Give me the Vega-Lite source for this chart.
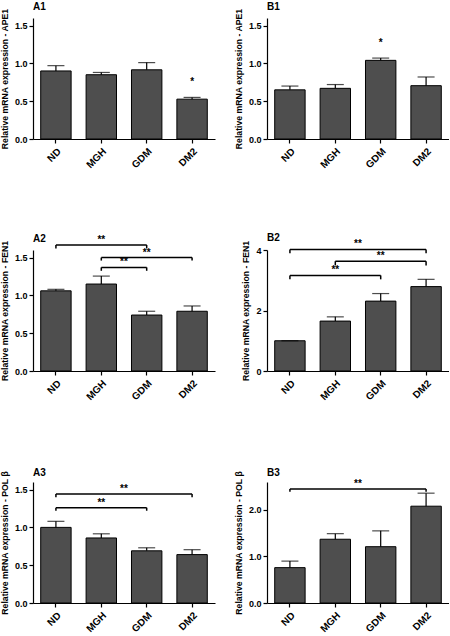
{
  "$schema": "https://vega.github.io/schema/vega-lite/v6.json",
  "padding": {"left": 0, "top": 2, "right": 0, "bottom": 0},
  "columns": 2,
  "bounds": "flush",
  "spacing": {"row": 111, "column": 52},
  "datasets": {
    "bars": [
      {"panel": "A1", "group": "ND", "mean": 0.90, "upper": 0.97, "sig": ""},
      {"panel": "A1", "group": "MGH", "mean": 0.85, "upper": 0.88, "sig": ""},
      {"panel": "A1", "group": "GDM", "mean": 0.915, "upper": 1.01, "sig": ""},
      {"panel": "A1", "group": "DM2", "mean": 0.527, "upper": 0.55, "sig": "*"},
      {"panel": "B1", "group": "ND", "mean": 0.65, "upper": 0.70, "sig": ""},
      {"panel": "B1", "group": "MGH", "mean": 0.67, "upper": 0.72, "sig": ""},
      {"panel": "B1", "group": "GDM", "mean": 1.04, "upper": 1.07, "sig": "*"},
      {"panel": "B1", "group": "DM2", "mean": 0.705, "upper": 0.82, "sig": ""},
      {"panel": "A2", "group": "ND", "mean": 1.06, "upper": 1.08, "sig": ""},
      {"panel": "A2", "group": "MGH", "mean": 1.15, "upper": 1.255, "sig": ""},
      {"panel": "A2", "group": "GDM", "mean": 0.74, "upper": 0.79, "sig": ""},
      {"panel": "A2", "group": "DM2", "mean": 0.79, "upper": 0.86, "sig": ""},
      {"panel": "B2", "group": "ND", "mean": 1.0, "upper": 1.0, "sig": ""},
      {"panel": "B2", "group": "MGH", "mean": 1.65, "upper": 1.79, "sig": ""},
      {"panel": "B2", "group": "GDM", "mean": 2.31, "upper": 2.56, "sig": ""},
      {"panel": "B2", "group": "DM2", "mean": 2.79, "upper": 3.03, "sig": ""},
      {"panel": "A3", "group": "ND", "mean": 1.0, "upper": 1.08, "sig": ""},
      {"panel": "A3", "group": "MGH", "mean": 0.86, "upper": 0.915, "sig": ""},
      {"panel": "A3", "group": "GDM", "mean": 0.69, "upper": 0.73, "sig": ""},
      {"panel": "A3", "group": "DM2", "mean": 0.64, "upper": 0.705, "sig": ""},
      {"panel": "B3", "group": "ND", "mean": 0.76, "upper": 0.90, "sig": ""},
      {"panel": "B3", "group": "MGH", "mean": 1.37, "upper": 1.49, "sig": ""},
      {"panel": "B3", "group": "GDM", "mean": 1.21, "upper": 1.55, "sig": ""},
      {"panel": "B3", "group": "DM2", "mean": 2.08, "upper": 2.36, "sig": ""}
    ],
    "brackets": [
      {"panel": "A2", "from": "ND", "to": "GDM", "level": 1.667, "tip": 1.62, "mid": "MGH", "half": false, "label": "**"},
      {"panel": "A2", "from": "MGH", "to": "DM2", "level": 1.50, "tip": 1.46, "mid": "GDM", "half": false, "label": "**"},
      {"panel": "A2", "from": "MGH", "to": "GDM", "level": 1.37, "tip": 1.325, "mid": "GDM", "half": true, "label": "**"},
      {"panel": "B2", "from": "ND", "to": "DM2", "level": 4.02, "tip": 3.89, "mid": "GDM", "half": true, "label": "**"},
      {"panel": "B2", "from": "MGH", "to": "DM2", "level": 3.63, "tip": 3.49, "mid": "GDM", "half": false, "label": "**"},
      {"panel": "B2", "from": "ND", "to": "GDM", "level": 3.16, "tip": 3.03, "mid": "MGH", "half": false, "label": "**"},
      {"panel": "A3", "from": "ND", "to": "DM2", "level": 1.44, "tip": 1.40, "mid": "GDM", "half": true, "label": "**"},
      {"panel": "A3", "from": "ND", "to": "GDM", "level": 1.26, "tip": 1.22, "mid": "MGH", "half": false, "label": "**"},
      {"panel": "B3", "from": "ND", "to": "DM2", "level": 2.45, "tip": 2.39, "mid": "GDM", "half": true, "label": "**"}
    ]
  },
  "concat": [
    {
      "title": {"text": "A1", "offset": -4},
      "width": 182, "height": 121,
      "data": {"name": "bars"},
      "transform": [{"filter": "datum.panel === 'A1'"}],
      "layer": [
        {"mark": {"type": "bar", "fill": "#4e4e4e", "stroke": "black", "strokeWidth": 1},
         "encoding": {
           "x": {"field": "group", "type": "nominal", "scale": {"domain": ["ND", "MGH", "GDM", "DM2"], "paddingInner": 0.33, "paddingOuter": 0.17}, "axis": {"title": null}},
           "y": {"field": "mean", "type": "quantitative", "scale": {"domain": [0, 1.5]}, "axis": {"values": [0, 0.5, 1, 1.5], "format": ".1f", "title": "Relative mRNA expression - APE1"}}}},
        {"mark": {"type": "rule", "color": "black", "strokeWidth": 1.2},
         "encoding": {"x": {"field": "group", "type": "nominal"}, "y": {"field": "mean", "type": "quantitative"}, "y2": {"field": "upper"}}},
        {"mark": {"type": "tick", "color": "black", "size": 17, "thickness": 1.2},
         "encoding": {"x": {"field": "group", "type": "nominal"}, "y": {"field": "upper", "type": "quantitative"}}},
        {"transform": [{"filter": "datum.sig"}],
         "mark": {"type": "text", "dy": -12, "fontSize": 10, "fontWeight": "bold", "baseline": "alphabetic"},
         "encoding": {"x": {"field": "group", "type": "nominal"}, "y": {"field": "upper", "type": "quantitative"}, "text": {"field": "sig"}}}
      ]
    },
    {
      "title": {"text": "B1", "offset": -4},
      "width": 182, "height": 121,
      "data": {"name": "bars"},
      "transform": [{"filter": "datum.panel === 'B1'"}],
      "layer": [
        {"mark": {"type": "bar", "fill": "#4e4e4e", "stroke": "black", "strokeWidth": 1},
         "encoding": {
           "x": {"field": "group", "type": "nominal", "scale": {"domain": ["ND", "MGH", "GDM", "DM2"], "paddingInner": 0.33, "paddingOuter": 0.17}, "axis": {"title": null}},
           "y": {"field": "mean", "type": "quantitative", "scale": {"domain": [0, 1.5]}, "axis": {"values": [0, 0.5, 1, 1.5], "format": ".1f", "title": "Relative mRNA expression - APE1"}}}},
        {"mark": {"type": "rule", "color": "black", "strokeWidth": 1.2},
         "encoding": {"x": {"field": "group", "type": "nominal"}, "y": {"field": "mean", "type": "quantitative"}, "y2": {"field": "upper"}}},
        {"mark": {"type": "tick", "color": "black", "size": 17, "thickness": 1.2},
         "encoding": {"x": {"field": "group", "type": "nominal"}, "y": {"field": "upper", "type": "quantitative"}}},
        {"transform": [{"filter": "datum.sig"}],
         "mark": {"type": "text", "dy": -12, "fontSize": 10, "fontWeight": "bold", "baseline": "alphabetic"},
         "encoding": {"x": {"field": "group", "type": "nominal"}, "y": {"field": "upper", "type": "quantitative"}, "text": {"field": "sig"}}}
      ]
    },
    {
      "title": {"text": "A2", "offset": -9.3},
      "width": 182, "height": 121,
      "layer": [
        {"data": {"name": "bars"},
         "transform": [{"filter": "datum.panel === 'A2'"}],
         "layer": [
           {"mark": {"type": "bar", "fill": "#4e4e4e", "stroke": "black", "strokeWidth": 1},
            "encoding": {
              "x": {"field": "group", "type": "nominal", "scale": {"domain": ["ND", "MGH", "GDM", "DM2"], "paddingInner": 0.33, "paddingOuter": 0.17}, "axis": {"title": null}},
              "y": {"field": "mean", "type": "quantitative", "scale": {"domain": [0, 1.5]}, "axis": {"values": [0, 0.5, 1, 1.5], "format": ".1f", "title": "Relative mRNA expression - FEN1"}}}},
           {"mark": {"type": "rule", "color": "black", "strokeWidth": 1.2},
            "encoding": {"x": {"field": "group", "type": "nominal"}, "y": {"field": "mean", "type": "quantitative"}, "y2": {"field": "upper"}}},
           {"mark": {"type": "tick", "color": "black", "size": 17, "thickness": 1.2},
            "encoding": {"x": {"field": "group", "type": "nominal"}, "y": {"field": "upper", "type": "quantitative"}}}
         ]},
        {"data": {"name": "brackets"},
         "transform": [{"filter": "datum.panel === 'A2'"}],
         "layer": [
           {"mark": {"type": "rule", "color": "black", "strokeWidth": 1.5},
            "encoding": {"x": {"field": "from", "type": "nominal"}, "x2": {"field": "to"}, "y": {"field": "level", "type": "quantitative"}}},
           {"transform": [{"fold": ["from", "to"], "as": ["end", "g"]}],
            "mark": {"type": "rule", "color": "black", "strokeWidth": 1.5},
            "encoding": {"x": {"field": "g", "type": "nominal"}, "y": {"field": "level", "type": "quantitative"}, "y2": {"field": "tip"}}},
           {"transform": [{"filter": "!datum.half"}],
            "mark": {"type": "text", "dy": -2, "fontSize": 10, "fontWeight": "bold", "baseline": "alphabetic"},
            "encoding": {"x": {"field": "mid", "type": "nominal"}, "y": {"field": "level", "type": "quantitative"}, "text": {"field": "label"}}},
           {"transform": [{"filter": "datum.half"}],
            "mark": {"type": "text", "dy": -2, "fontSize": 10, "fontWeight": "bold", "baseline": "alphabetic"},
            "encoding": {"x": {"field": "mid", "type": "nominal", "bandPosition": -0.25}, "y": {"field": "level", "type": "quantitative"}, "text": {"field": "label"}}}
         ]}
      ]
    },
    {
      "title": {"text": "B2", "offset": -3.3},
      "width": 182, "height": 121,
      "layer": [
        {"data": {"name": "bars"},
         "transform": [{"filter": "datum.panel === 'B2'"}],
         "layer": [
           {"mark": {"type": "bar", "fill": "#4e4e4e", "stroke": "black", "strokeWidth": 1},
            "encoding": {
              "x": {"field": "group", "type": "nominal", "scale": {"domain": ["ND", "MGH", "GDM", "DM2"], "paddingInner": 0.33, "paddingOuter": 0.17}, "axis": {"title": null}},
              "y": {"field": "mean", "type": "quantitative", "scale": {"domain": [0, 4]}, "axis": {"values": [0, 1, 2, 3, 4], "format": "d", "title": "Relative mRNA expression - FEN1"}}}},
           {"mark": {"type": "rule", "color": "black", "strokeWidth": 1.2},
            "encoding": {"x": {"field": "group", "type": "nominal"}, "y": {"field": "mean", "type": "quantitative"}, "y2": {"field": "upper"}}},
           {"mark": {"type": "tick", "color": "black", "size": 17, "thickness": 1.2},
            "encoding": {"x": {"field": "group", "type": "nominal"}, "y": {"field": "upper", "type": "quantitative"}}}
         ]},
        {"data": {"name": "brackets"},
         "transform": [{"filter": "datum.panel === 'B2'"}],
         "layer": [
           {"mark": {"type": "rule", "color": "black", "strokeWidth": 1.5},
            "encoding": {"x": {"field": "from", "type": "nominal"}, "x2": {"field": "to"}, "y": {"field": "level", "type": "quantitative"}}},
           {"transform": [{"fold": ["from", "to"], "as": ["end", "g"]}],
            "mark": {"type": "rule", "color": "black", "strokeWidth": 1.5},
            "encoding": {"x": {"field": "g", "type": "nominal"}, "y": {"field": "level", "type": "quantitative"}, "y2": {"field": "tip"}}},
           {"transform": [{"filter": "!datum.half"}],
            "mark": {"type": "text", "dy": -2, "fontSize": 10, "fontWeight": "bold", "baseline": "alphabetic"},
            "encoding": {"x": {"field": "mid", "type": "nominal"}, "y": {"field": "level", "type": "quantitative"}, "text": {"field": "label"}}},
           {"transform": [{"filter": "datum.half"}],
            "mark": {"type": "text", "dy": -2, "fontSize": 10, "fontWeight": "bold", "baseline": "alphabetic"},
            "encoding": {"x": {"field": "mid", "type": "nominal", "bandPosition": -0.25}, "y": {"field": "level", "type": "quantitative"}, "text": {"field": "label"}}}
         ]}
      ]
    },
    {
      "title": {"text": "A3", "offset": -7.8},
      "width": 182, "height": 121,
      "layer": [
        {"data": {"name": "bars"},
         "transform": [{"filter": "datum.panel === 'A3'"}],
         "layer": [
           {"mark": {"type": "bar", "fill": "#4e4e4e", "stroke": "black", "strokeWidth": 1},
            "encoding": {
              "x": {"field": "group", "type": "nominal", "scale": {"domain": ["ND", "MGH", "GDM", "DM2"], "paddingInner": 0.33, "paddingOuter": 0.17}, "axis": {"title": null}},
              "y": {"field": "mean", "type": "quantitative", "scale": {"domain": [0, 1.5]}, "axis": {"values": [0, 0.5, 1, 1.5], "format": ".1f", "title": "Relative mRNA expression - POL β"}}}},
           {"mark": {"type": "rule", "color": "black", "strokeWidth": 1.2},
            "encoding": {"x": {"field": "group", "type": "nominal"}, "y": {"field": "mean", "type": "quantitative"}, "y2": {"field": "upper"}}},
           {"mark": {"type": "tick", "color": "black", "size": 17, "thickness": 1.2},
            "encoding": {"x": {"field": "group", "type": "nominal"}, "y": {"field": "upper", "type": "quantitative"}}}
         ]},
        {"data": {"name": "brackets"},
         "transform": [{"filter": "datum.panel === 'A3'"}],
         "layer": [
           {"mark": {"type": "rule", "color": "black", "strokeWidth": 1.5},
            "encoding": {"x": {"field": "from", "type": "nominal"}, "x2": {"field": "to"}, "y": {"field": "level", "type": "quantitative"}}},
           {"transform": [{"fold": ["from", "to"], "as": ["end", "g"]}],
            "mark": {"type": "rule", "color": "black", "strokeWidth": 1.5},
            "encoding": {"x": {"field": "g", "type": "nominal"}, "y": {"field": "level", "type": "quantitative"}, "y2": {"field": "tip"}}},
           {"transform": [{"filter": "!datum.half"}],
            "mark": {"type": "text", "dy": -2, "fontSize": 10, "fontWeight": "bold", "baseline": "alphabetic"},
            "encoding": {"x": {"field": "mid", "type": "nominal"}, "y": {"field": "level", "type": "quantitative"}, "text": {"field": "label"}}},
           {"transform": [{"filter": "datum.half"}],
            "mark": {"type": "text", "dy": -2, "fontSize": 10, "fontWeight": "bold", "baseline": "alphabetic"},
            "encoding": {"x": {"field": "mid", "type": "nominal", "bandPosition": -0.25}, "y": {"field": "level", "type": "quantitative"}, "text": {"field": "label"}}}
         ]}
      ]
    },
    {
      "title": {"text": "B3", "offset": -7.8},
      "width": 182, "height": 121,
      "layer": [
        {"data": {"name": "bars"},
         "transform": [{"filter": "datum.panel === 'B3'"}],
         "layer": [
           {"mark": {"type": "bar", "fill": "#4e4e4e", "stroke": "black", "strokeWidth": 1},
            "encoding": {
              "x": {"field": "group", "type": "nominal", "scale": {"domain": ["ND", "MGH", "GDM", "DM2"], "paddingInner": 0.33, "paddingOuter": 0.17}, "axis": {"title": null}},
              "y": {"field": "mean", "type": "quantitative", "scale": {"domain": [0, 2.5]}, "axis": {"values": [0, 0.5, 1, 1.5, 2, 2.5], "format": ".1f", "title": "Relative mRNA expression - POL β"}}}},
           {"mark": {"type": "rule", "color": "black", "strokeWidth": 1.2},
            "encoding": {"x": {"field": "group", "type": "nominal"}, "y": {"field": "mean", "type": "quantitative"}, "y2": {"field": "upper"}}},
           {"mark": {"type": "tick", "color": "black", "size": 17, "thickness": 1.2},
            "encoding": {"x": {"field": "group", "type": "nominal"}, "y": {"field": "upper", "type": "quantitative"}}}
         ]},
        {"data": {"name": "brackets"},
         "transform": [{"filter": "datum.panel === 'B3'"}],
         "layer": [
           {"mark": {"type": "rule", "color": "black", "strokeWidth": 1.5},
            "encoding": {"x": {"field": "from", "type": "nominal"}, "x2": {"field": "to"}, "y": {"field": "level", "type": "quantitative"}}},
           {"transform": [{"fold": ["from", "to"], "as": ["end", "g"]}],
            "mark": {"type": "rule", "color": "black", "strokeWidth": 1.5},
            "encoding": {"x": {"field": "g", "type": "nominal"}, "y": {"field": "level", "type": "quantitative"}, "y2": {"field": "tip"}}},
           {"transform": [{"filter": "!datum.half"}],
            "mark": {"type": "text", "dy": -2, "fontSize": 10, "fontWeight": "bold", "baseline": "alphabetic"},
            "encoding": {"x": {"field": "mid", "type": "nominal"}, "y": {"field": "level", "type": "quantitative"}, "text": {"field": "label"}}},
           {"transform": [{"filter": "datum.half"}],
            "mark": {"type": "text", "dy": -2, "fontSize": 10, "fontWeight": "bold", "baseline": "alphabetic"},
            "encoding": {"x": {"field": "mid", "type": "nominal", "bandPosition": -0.25}, "y": {"field": "level", "type": "quantitative"}, "text": {"field": "label"}}}
         ]}
      ]
    }
  ],
  "config": {
    "font": "Liberation Sans",
    "view": {"stroke": null},
    "axis": {
      "grid": false,
      "domainColor": "black",
      "domainWidth": 1.2,
      "tickColor": "black",
      "tickWidth": 1.2,
      "tickSize": 4,
      "labelColor": "black",
      "labelFontWeight": "bold",
      "labelFontSize": 9,
      "titleColor": "black",
      "titleFontWeight": "bold",
      "titleFontSize": 8.7,
      "titlePadding": 5
    },
    "axisX": {"labelAngle": -45, "labelFontSize": 10, "labelPadding": 3},
    "title": {"anchor": "start", "frame": "group", "baseline": "alphabetic", "fontSize": 10, "fontWeight": "bold", "color": "black"}
  }
}
